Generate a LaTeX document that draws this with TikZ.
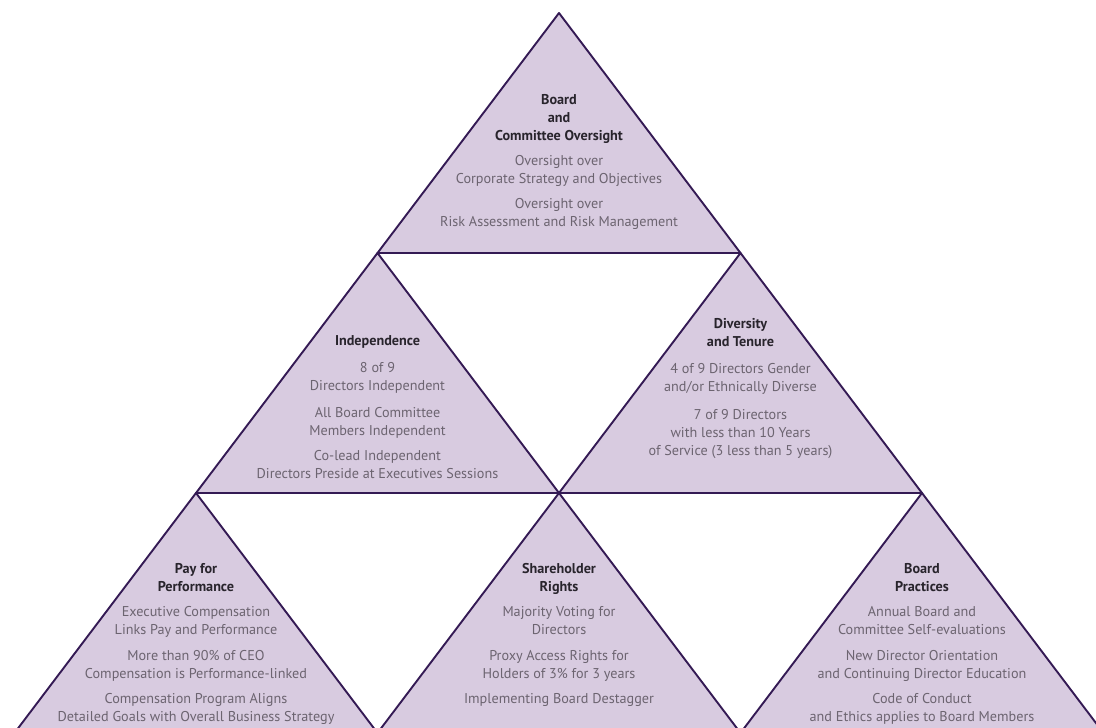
\documentclass[tikz,border=0pt]{standalone}
\usepackage{fontspec}
\setmainfont{PT Sans}
\usetikzlibrary{positioning}

\definecolor{triline}{RGB}{52,26,84}
\definecolor{trifill}{RGB}{216,203,224}
\definecolor{headtext}{RGB}{40,36,44}
\definecolor{bodytext}{RGB}{108,100,112}

\begin{document}
\begin{tikzpicture}[x=1pt, y=1pt, line join=round]
  % definition of the basic styles.
  \tikzset{
    tri/.style={draw=triline, fill=trifill, line width=1.9pt},
    block/.style={anchor=north, inner sep=0pt, align=center, color=bodytext,
      font=\fontsize{14.2}{18}\selectfont},
  }
  \newcommand{\head}[1]{{\color{headtext}\bfseries #1}}
  % The picture frame, the lowest row runs over its edge
  \useasboundingbox (0,0) rectangle (1096,728);
  \clip (0,0) rectangle (1096,728);

  % The six triangles, given by their apex
  \foreach \ax/\ay in {559/715, 377.5/475, 740.5/475, 196/235, 559/235, 922/235}
    \filldraw[tri] (\ax,\ay) -- ++(-181.5,-240) -- ++(363,0) -- cycle;

  % Texts of the top row
  \node[block] (oversight) at (559,633.5)
    {\head{Board}\\ \head{and}\\ \head{Committee Oversight}\\[7pt]
     Oversight over\\ Corporate Strategy and Objectives\\[7pt]
     Oversight over\\ Risk Assessment and Risk Management};

  % Texts of the middle row
  \node[block] (independence) at (377.5,392.5)
    {\head{Independence}\\[9pt]
     8 of 9\\ Directors Independent\\[9pt]
     All Board Committee\\ Members Independent\\[7pt]
     Co-lead Independent\\ Directors Preside at Executives Sessions};
  \node[block] (diversity) at (740.5,410)
    {\head{Diversity}\\ \head{and Tenure}\\[9pt]
     4 of 9 Directors Gender\\ and/or Ethnically Diverse\\[10pt]
     7 of 9 Directors\\ with less than 10 Years\\ of Service (3 less than 5 years)};

  % Texts of the bottom row
  \node[block] (pay) at (196,165)
    {\head{Pay for}\\ \head{Performance}\\[7pt]
     Executive Compensation\\ Links Pay and Performance\\[8pt]
     More than 90\% of CEO\\ Compensation is Performance-linked\\[7pt]
     Compensation Program Aligns\\ Detailed Goals with Overall Business Strategy};
  \node[block] (rights) at (559,165)
    {\head{Shareholder}\\ \head{Rights}\\[7pt]
     Majority Voting for\\ Directors\\[8pt]
     Proxy Access Rights for\\ Holders of 3\% for 3 years\\[7pt]
     Implementing Board Destagger};
  \node[block] (practices) at (922,165)
    {\head{Board}\\ \head{Practices}\\[7pt]
     Annual Board and\\ Committee Self-evaluations\\[8pt]
     New Director Orientation\\ and Continuing Director Education\\[7pt]
     Code of Conduct\\ and Ethics applies to Board Members};
\end{tikzpicture}
\end{document}
